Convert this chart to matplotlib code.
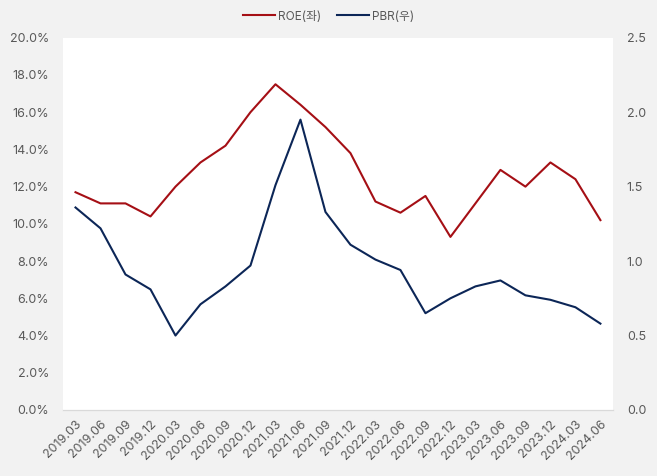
import numpy as np
import matplotlib.pyplot as plt
from matplotlib.ticker import FuncFormatter

# quarterly ROE (left, %) and PBR (right, x)
quarters = ['2019.03', '2019.06', '2019.09', '2019.12', '2020.03', '2020.06',
            '2020.09', '2020.12', '2021.03', '2021.06', '2021.09', '2021.12',
            '2022.03', '2022.06', '2022.09', '2022.12', '2023.03', '2023.06',
            '2023.09', '2023.12', '2024.03', '2024.06']
roe = [11.7, 11.1, 11.1, 10.4, 12.0, 13.3, 14.2, 16.0, 17.5, 16.4, 15.2, 13.8,
       11.2, 10.6, 11.5, 9.3, 11.1, 12.9, 12.0, 13.3, 12.4, 10.2]
pbr = [1.36, 1.22, 0.91, 0.81, 0.50, 0.71, 0.83, 0.97, 1.51, 1.95, 1.33, 1.11,
       1.01, 0.94, 0.65, 0.75, 0.83, 0.87, 0.77, 0.74, 0.69, 0.58]

plt.rcParams['font.family'] = ['Inter', 'Noto Sans CJK KR', 'DejaVu Sans']
bg = '#f2f2f2'
tick_color = '#595959'
roe_color = '#a50f15'
pbr_color = '#0c2657'

fig = plt.figure(figsize=(6.57, 4.76), dpi=100, facecolor=bg)
ax = fig.add_axes([0.0959, 0.1387, 0.837, 0.782])
ax.set_facecolor('white')
ax2 = ax.twinx()

x = np.arange(len(quarters))
l1, = ax.plot(x, roe, color=roe_color, linewidth=1.5, label='ROE(좌)')
l2, = ax2.plot(x, pbr, color=pbr_color, linewidth=1.5, label='PBR(우)')

ax.set_xlim(-0.5, len(quarters) - 0.5)
ax.set_ylim(0, 20)
ax.set_yticks(np.arange(0, 20.1, 2))
ax.yaxis.set_major_formatter(FuncFormatter(lambda v, p: f'{v:.1f}%'))
ax2.set_ylim(0, 2.5)
ax2.set_yticks(np.arange(0, 2.51, 0.5))
ax2.yaxis.set_major_formatter(FuncFormatter(lambda v, p: f'{v:.1f}'))

ax.set_xticks(x)
ax.set_xticklabels(quarters, rotation=45, ha='right', rotation_mode='anchor')

for a in (ax, ax2):
    for s in ('top', 'left', 'right'):
        a.spines[s].set_visible(False)
    a.spines['bottom'].set_color('#d9d9d9')
    a.tick_params(length=0, labelsize=9, colors=tick_color, pad=6)
ax.tick_params(axis='y', pad=10)
ax2.tick_params(axis='y', pad=10)

fig.legend(handles=[l1, l2], loc='upper center', bbox_to_anchor=(0.5, 1.0),
           ncol=2, frameon=False, fontsize=8.5, labelcolor=tick_color,
           handlelength=2.7, handletextpad=0.25, columnspacing=1.4)

fig.savefig('out.png', dpi=100, facecolor=bg)
